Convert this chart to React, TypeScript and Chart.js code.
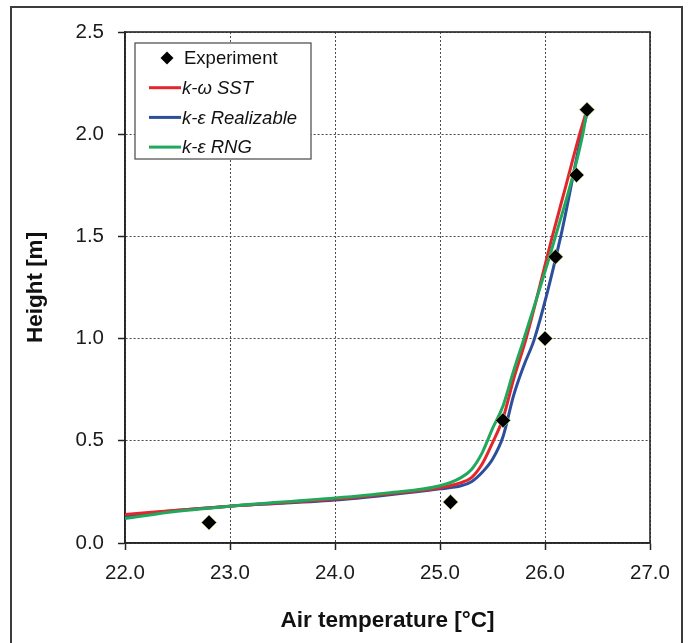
import React, { useEffect, useRef } from "react";
import { Chart, registerables } from "chart.js";

Chart.register(...registerables);

// ---- Data ----
const expTemp = [22.8, 25.1, 25.6, 26.0, 26.1, 26.3, 26.4];
const expHeight = [0.1, 0.2, 0.6, 1.0, 1.4, 1.8, 2.12];

const sstTemp = [22.0, 22.5, 23.0, 24.0, 24.5, 25.0, 25.2, 25.3, 25.4, 25.5, 25.6, 25.7, 25.82, 26.07, 26.2, 26.33, 26.4];
const sstHeight = [0.14, 0.16, 0.18, 0.215, 0.24, 0.27, 0.295, 0.32, 0.385, 0.49, 0.61, 0.8, 1.0, 1.5, 1.75, 2.0, 2.12];

const realTemp = [22.0, 22.5, 23.0, 24.0, 24.5, 25.0, 25.2, 25.3, 25.4, 25.5, 25.6, 25.7, 25.8, 25.9, 26.15, 26.35, 26.4];
const realHeight = [0.13, 0.16, 0.18, 0.21, 0.235, 0.265, 0.28, 0.3, 0.345, 0.41, 0.52, 0.72, 0.87, 1.0, 1.5, 2.0, 2.1];

const rngTemp = [22.0, 22.5, 23.0, 24.0, 24.5, 25.0, 25.2, 25.3, 25.4, 25.5, 25.6, 25.7, 25.8, 26.1, 26.36, 26.4];
const rngHeight = [0.12, 0.155, 0.18, 0.22, 0.245, 0.28, 0.32, 0.36, 0.44, 0.56, 0.67, 0.84, 1.0, 1.5, 2.0, 2.12];

const seriesLabels = ["Experiment", "k-ω SST", "k-ε Realizable", "k-ε RNG"];

const xMin = 22, xMax = 27, xStep = 1;
const yMin = 0, yMax = 2.5, yStep = 0.5;
const xTitle = "Air temperature [°C]";
const yTitle = "Height [m]";

const toPoints = (xs: number[], ys: number[]) => xs.map((x, i) => ({ x, y: ys[i] }));

const FONT = "'Liberation Sans', Arial, sans-serif";

const framePlugin = {
  id: "frame",
  beforeDraw(chart: any) {
    const ctx = chart.ctx;
    ctx.save();
    ctx.fillStyle = "#ffffff";
    ctx.fillRect(0, 0, chart.width, chart.height);
    ctx.strokeStyle = "#3c3c3c";
    ctx.lineWidth = 2;
    ctx.strokeRect(11, 7, 671, 700);
    ctx.restore();
  },
  beforeDatasetsDraw(chart: any) {
    const { ctx, chartArea: a } = chart;
    ctx.save();
    ctx.setLineDash([]);
    ctx.strokeStyle = "#262626";
    ctx.lineWidth = 1.6;
    ctx.strokeRect(a.left, a.top, a.right - a.left, a.bottom - a.top);
    ctx.restore();
  },
  afterDatasetsDraw(chart: any) {
    const { ctx, chartArea: a } = chart;
    const bx = a.left + 10, by = a.top + 11, bw = 176, bh = 116;
    ctx.save();
    ctx.setLineDash([]);
    ctx.fillStyle = "#ffffff";
    ctx.fillRect(bx, by, bw, bh);
    ctx.strokeStyle = "#555555";
    ctx.lineWidth = 1.3;
    ctx.strokeRect(bx, by, bw, bh);
    const rowH = 29.7;
    chart.data.datasets.forEach((ds: any, i: number) => {
      const cy = by + 15 + i * rowH;
      if (ds.showLine) {
        ctx.strokeStyle = ds.borderColor;
        ctx.lineWidth = 3;
        ctx.beginPath();
        ctx.moveTo(bx + 14, cy);
        ctx.lineTo(bx + 46, cy);
        ctx.stroke();
      } else {
        const r = 6.5;
        const cx = bx + 32;
        ctx.fillStyle = "#000000";
        ctx.beginPath();
        ctx.moveTo(cx, cy - r);
        ctx.lineTo(cx + r, cy);
        ctx.lineTo(cx, cy + r);
        ctx.lineTo(cx - r, cy);
        ctx.closePath();
        ctx.fill();
      }
      ctx.fillStyle = "#111111";
      ctx.textBaseline = "middle";
      ctx.textAlign = "left";
      ctx.font = (ds.showLine ? "italic " : "") + "18.5px " + FONT;
      ctx.fillText(ds.label, bx + (ds.showLine ? 47 : 49), cy + 1);
    });
    ctx.restore();
  },
};

export default function App() {
  const ref = useRef<HTMLCanvasElement | null>(null);

  useEffect(() => {
    if (!ref.current) return;
    const lineDs = (label: string, xs: number[], ys: number[], color: string, order: number) => ({
      label,
      data: toPoints(xs, ys),
      showLine: true,
      borderColor: color,
      backgroundColor: color,
      borderWidth: 3,
      pointRadius: 0,
      cubicInterpolationMode: "monotone" as const,
      order,
    });
    const gridCommon = {
      color: "#4a4a4a",
      lineWidth: 1,
      tickLength: 7,
      tickColor: "#222222",
      tickWidth: 1.5,
      tickBorderDash: [],
      drawTicks: true,
    };
    const borderCommon = { display: true, color: "#262626", width: 1.6, dash: [2, 2] };
    const chart = new Chart(ref.current, {
      type: "scatter",
      data: {
        datasets: [
          {
            label: seriesLabels[0],
            data: toPoints(expTemp, expHeight),
            showLine: false,
            pointStyle: "rectRot",
            pointRadius: 7.5,
            pointBackgroundColor: "#000000",
            pointBorderColor: "rgba(170,200,110,0.7)",
            pointBorderWidth: 1,
            order: 0,
          } as any,
          lineDs(seriesLabels[1], sstTemp, sstHeight, "#e3262b", 2),
          lineDs(seriesLabels[2], realTemp, realHeight, "#2c4f9b", 3),
          lineDs(seriesLabels[3], rngTemp, rngHeight, "#20a85c", 1),
        ],
      },
      options: {
        animation: false,
        responsive: false,
        layout: { padding: { left: 0, top: 32, right: 39, bottom: 0 } },
        plugins: {
          legend: { display: false },
          tooltip: { enabled: false },
        },
        scales: {
          x: {
            type: "linear",
            min: xMin,
            max: xMax,
            ticks: {
              stepSize: xStep,
              padding: 11,
              color: "#1a1a1a",
              font: { family: FONT, size: 20.5 },
              callback: (v: any) => Number(v).toFixed(1),
            },
            grid: gridCommon as any,
            border: borderCommon,
            title: {
              display: true,
              text: xTitle,
              color: "#111111",
              font: { family: FONT, size: 22.5, weight: "bold" },
              padding: { top: 0, bottom: 9 },
            },
            afterFit: (s: any) => {
              s.height = 100;
            },
          },
          y: {
            type: "linear",
            min: yMin,
            max: yMax,
            ticks: {
              stepSize: yStep,
              padding: 14,
              color: "#1a1a1a",
              font: { family: FONT, size: 20.5 },
              callback: (v: any) => Number(v).toFixed(1),
            },
            grid: gridCommon as any,
            border: borderCommon,
            title: {
              display: true,
              text: yTitle,
              color: "#111111",
              font: { family: FONT, size: 22.5, weight: "bold" },
              padding: { top: 22, bottom: 0 },
            },
            afterFit: (s: any) => {
              s.width = 125;
            },
          },
        },
      } as any,
      plugins: [framePlugin],
    });
    return () => chart.destroy();
  }, []);

  return (
    <div style={{ position: "absolute", left: 0, top: 0, width: 689, height: 643 }}>
      <canvas ref={ref} width={689} height={643} style={{ display: "block", width: 689, height: 643 }} />
    </div>
  );
}
